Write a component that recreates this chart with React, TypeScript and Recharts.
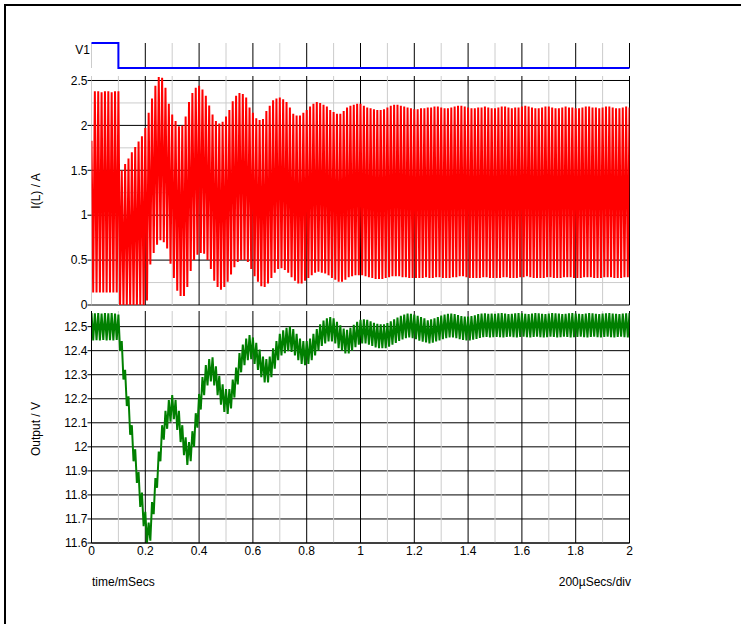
import React from 'react';
import { LineChart, Line, XAxis, YAxis, ReferenceLine } from 'recharts';

const FONT = '"Liberation Sans", Arial, Helvetica, sans-serif';

// ---- time axis (mSecs) ----
const TIME_TICKS = [0, 0.2, 0.4, 0.6, 0.8, 1, 1.2, 1.4, 1.6, 1.8, 2];
const MAJOR_TIMES = [0.2, 0.4, 0.6, 0.8, 1, 1.2, 1.4, 1.6, 1.8, 2];
const MINOR_TIMES = [0.1, 0.3, 0.5, 0.7, 0.9, 1.1, 1.3, 1.5, 1.7, 1.9];

// ---- V1 digital trace ----
const V1_TIMES = [0, 0.1, 0.1, 2];
const V1_LEVELS = [1, 1, 0, 0];

// ---- switching ripple: one peak + one valley per switching period ----
const SWITCH_PERIOD = 0.0125; // ms

// I(L) / A  -- peak of each cycle
const IL_PEAK = [
  1.83, 2.38, 2.38, 2.37, 2.38, 2.38, 2.37, 2.38, 2.38, 1.5,
  1.57, 1.63, 1.7, 1.76, 1.82, 1.88, 1.97, 2.14, 2.3, 2.44,
  2.54, 2.53, 2.42, 2.24, 2.12, 2.05, 1.99, 2.0, 2.1, 2.26,
  2.36, 2.42, 2.44, 2.4, 2.33, 2.22, 2.12, 2.05, 2.02, 2.04,
  2.1, 2.17, 2.27, 2.33, 2.36, 2.35, 2.31, 2.2, 2.14, 2.08,
  2.06, 2.07, 2.16, 2.22, 2.28, 2.3, 2.31, 2.29, 2.26, 2.2,
  2.13, 2.11, 2.11, 2.14, 2.17, 2.21, 2.24, 2.26, 2.25, 2.23,
  2.21, 2.17, 2.15, 2.13, 2.13, 2.16, 2.2, 2.22, 2.23, 2.24,
  2.24, 2.22, 2.2, 2.19, 2.18, 2.17, 2.17, 2.18, 2.2, 2.22,
  2.23, 2.23, 2.22, 2.21, 2.2, 2.19, 2.18, 2.18, 2.19, 2.19,
  2.2, 2.2, 2.21, 2.21, 2.2, 2.19, 2.19, 2.2, 2.21, 2.22,
  2.22, 2.21, 2.2, 2.19, 2.19, 2.2, 2.2, 2.21, 2.2, 2.19,
  2.19, 2.2, 2.21, 2.21, 2.2, 2.19, 2.2, 2.2, 2.21, 2.22,
  2.21, 2.2, 2.19, 2.19, 2.2, 2.21, 2.21, 2.2, 2.19, 2.19,
  2.2, 2.21, 2.2, 2.2, 2.19, 2.19, 2.2, 2.21, 2.21, 2.2,
  2.2, 2.19, 2.2, 2.21, 2.21, 2.2, 2.19, 2.19, 2.2, 2.21,
  2.2,
];
// I(L) / A  -- valley of each cycle
const IL_VALLEY = [
  0.14, 0.14, 0.14, 0.14, 0.14, 0.14, 0.14, 0.14, 0, 0,
  0, 0, 0, 0, 0, 0, 0.05, 0.45, 0.58, 0.67,
  0.72, 0.7, 0.63, 0.46, 0.3, 0.16, 0.1, 0.1, 0.2, 0.38,
  0.5, 0.56, 0.58, 0.57, 0.5, 0.4, 0.27, 0.2, 0.17, 0.2,
  0.26, 0.34, 0.42, 0.48, 0.5, 0.5, 0.48, 0.4, 0.32, 0.26,
  0.21, 0.2, 0.24, 0.3, 0.36, 0.4, 0.41, 0.39, 0.36, 0.31,
  0.27, 0.24, 0.24, 0.27, 0.3, 0.33, 0.36, 0.37, 0.36, 0.35,
  0.33, 0.3, 0.28, 0.26, 0.26, 0.28, 0.31, 0.32, 0.33, 0.33,
  0.33, 0.32, 0.31, 0.3, 0.29, 0.29, 0.29, 0.3, 0.31, 0.32,
  0.32, 0.32, 0.31, 0.31, 0.3, 0.3, 0.3, 0.3, 0.3, 0.31,
  0.3, 0.3, 0.31, 0.31, 0.3, 0.3, 0.3, 0.31, 0.31, 0.32,
  0.32, 0.31, 0.3, 0.3, 0.3, 0.3, 0.31, 0.31, 0.3, 0.3,
  0.3, 0.3, 0.31, 0.31, 0.3, 0.3, 0.3, 0.31, 0.31, 0.32,
  0.31, 0.3, 0.3, 0.3, 0.3, 0.31, 0.31, 0.3, 0.3, 0.3,
  0.31, 0.31, 0.31, 0.3, 0.3, 0.3, 0.31, 0.31, 0.31, 0.3,
  0.3, 0.3, 0.31, 0.31, 0.31, 0.3, 0.3, 0.3, 0.31, 0.31,
  0.3,
];
// Output / V -- peak of each cycle
const OUT_PEAK = [
  12.556, 12.555, 12.556, 12.554, 12.556, 12.555, 12.556, 12.554, 12.55, 12.44,
  12.32, 12.21, 12.09, 11.99, 11.895, 11.81, 11.73, 11.685, 11.77, 11.87,
  11.98, 12.09, 12.15, 12.195, 12.215, 12.195, 12.15, 12.09, 12.04, 12.02,
  12.065, 12.14, 12.22, 12.29, 12.34, 12.365, 12.372, 12.335, 12.295, 12.26,
  12.24, 12.24, 12.28, 12.33, 12.39, 12.425, 12.45, 12.465, 12.455, 12.433,
  12.405, 12.375, 12.365, 12.375, 12.41, 12.44, 12.47, 12.485, 12.495, 12.5,
  12.49, 12.47, 12.45, 12.44, 12.44, 12.45, 12.47, 12.49, 12.51, 12.525,
  12.535, 12.54, 12.535, 12.52, 12.505, 12.492, 12.487, 12.495, 12.508, 12.52,
  12.528, 12.53, 12.528, 12.522, 12.516, 12.512, 12.51, 12.51, 12.515, 12.522,
  12.53, 12.538, 12.545, 12.55, 12.554, 12.553, 12.55, 12.545, 12.54, 12.535,
  12.526, 12.53, 12.535, 12.54, 12.546, 12.55, 12.553, 12.554, 12.552, 12.548,
  12.544, 12.542, 12.542, 12.544, 12.547, 12.552, 12.554, 12.555, 12.553, 12.554,
  12.553, 12.555, 12.556, 12.554, 12.552, 12.553, 12.555, 12.556, 12.555, 12.553,
  12.552, 12.554, 12.556, 12.555, 12.553, 12.552, 12.554, 12.556, 12.555, 12.554,
  12.552, 12.553, 12.555, 12.556, 12.554, 12.553, 12.552, 12.554, 12.556, 12.555,
  12.553, 12.552, 12.554, 12.555, 12.556, 12.554, 12.553, 12.552, 12.554, 12.555,
  12.556,
];
// Output / V -- valley of each cycle
const OUT_VALLEY = [
  12.443, 12.444, 12.443, 12.445, 12.443, 12.444, 12.443, 12.445, 12.4, 12.28,
  12.17, 12.05, 11.94, 11.85, 11.75, 11.67, 11.6, 11.61, 11.72, 11.83,
  11.94, 12.03, 12.075, 12.105, 12.115, 12.07, 12.02, 11.965, 11.925, 11.94,
  12.0, 12.08, 12.155, 12.215, 12.255, 12.272, 12.255, 12.215, 12.175, 12.145,
  12.137, 12.16, 12.205, 12.26, 12.31, 12.34, 12.36, 12.365, 12.345, 12.32,
  12.29, 12.268, 12.268, 12.29, 12.325, 12.36, 12.38, 12.39, 12.398, 12.395,
  12.38, 12.36, 12.345, 12.34, 12.345, 12.36, 12.38, 12.4, 12.42, 12.43,
  12.438, 12.438, 12.43, 12.41, 12.4, 12.388, 12.388, 12.4, 12.415, 12.425,
  12.43, 12.43, 12.425, 12.42, 12.413, 12.41, 12.41, 12.41, 12.417, 12.425,
  12.432, 12.44, 12.447, 12.452, 12.455, 12.452, 12.448, 12.442, 12.437, 12.434,
  12.43, 12.433, 12.438, 12.443, 12.448, 12.452, 12.455, 12.455, 12.452, 12.448,
  12.445, 12.443, 12.443, 12.446, 12.449, 12.453, 12.456, 12.457, 12.455, 12.456,
  12.457, 12.456, 12.455, 12.457, 12.458, 12.456, 12.455, 12.457, 12.458, 12.456,
  12.455, 12.457, 12.458, 12.456, 12.455, 12.456, 12.458, 12.457, 12.455, 12.456,
  12.458, 12.457, 12.455, 12.456, 12.457, 12.458, 12.456, 12.455, 12.457, 12.458,
  12.456, 12.455, 12.457, 12.458, 12.456, 12.455, 12.457, 12.458, 12.456, 12.455,
  12.457,
];

// ---- y axes ----
const IL_TICKS = [0, 0.5, 1, 1.5, 2, 2.5];
const IL_MINOR = [0.25, 0.75, 1.25, 1.75, 2.25];
const OUT_TICKS = [11.6, 11.7, 11.8, 11.9, 12, 12.1, 12.2, 12.3, 12.4, 12.5];

const T_END = 2;

function rippleSeries(peaks: number[], valleys: number[]) {
  const pts: { t: number; v: number }[] = [];
  peaks.forEach((p, i) => {
    const t = i * SWITCH_PERIOD;
    pts.push({ t, v: p });
    const tv = t + SWITCH_PERIOD / 2;
    if (tv <= T_END) pts.push({ t: tv, v: valleys[i] });
  });
  return pts;
}

const v1Data = V1_TIMES.map((t, i) => ({ t, v: V1_LEVELS[i] }));
const ilData = rippleSeries(IL_PEAK, IL_VALLEY);
const outData = rippleSeries(OUT_PEAK, OUT_VALLEY);

const MINOR_C = '#cccccc';
const MAJOR_C = '#000000';
const RIGHT = 111.5;
const LEFT_W = 91.5;
const tickStyle = { fontSize: 12, fill: '#000', fontFamily: FONT };

const fmt = (v: number) => String(v);

function vGrid(prefix: string, zeroColor: string | null) {
  const out: React.ReactNode[] = [];
  if (zeroColor) out.push(<ReferenceLine key={prefix + 'z'} x={0} stroke={zeroColor} strokeWidth={1} />);
  MINOR_TIMES.forEach((t) =>
    out.push(<ReferenceLine key={prefix + 'mi' + t} x={t} stroke={MINOR_C} strokeWidth={1} />)
  );
  MAJOR_TIMES.forEach((t) =>
    out.push(<ReferenceLine key={prefix + 'ma' + t} x={t} stroke={MAJOR_C} strokeWidth={1} />)
  );
  return out;
}

export default function App() {
  return (
    <div
      style={{
        position: 'absolute',
        left: 0,
        top: 0,
        width: 741,
        height: 624,
        overflow: 'hidden',
        background: '#fff',
        fontFamily: FONT,
      }}
    >
      {/* V1 panel */}
      <div style={{ position: 'absolute', left: 0, top: 0 }}>
        <LineChart width={741} height={70} data={v1Data} margin={{ top: 43, right: RIGHT, bottom: 2, left: LEFT_W }}>
          <XAxis type="number" dataKey="t" domain={[0, 2]} hide />
          <YAxis type="number" domain={[0, 1]} hide />
          {vGrid('v1', MINOR_C)}
          <Line
            type="linear"
            dataKey="v"
            stroke="#0000ff"
            strokeWidth={2}
            dot={false}
            activeDot={false}
            isAnimationActive={false}
          />
        </LineChart>
      </div>

      {/* I(L) panel */}
      <div style={{ position: 'absolute', left: 0, top: 70 }}>
        <LineChart width={741} height={250} data={ilData} margin={{ top: 6, right: RIGHT, bottom: 15, left: 0 }}>
          <XAxis type="number" dataKey="t" domain={[0, 2]} hide allowDataOverflow />
          <YAxis
            type="number"
            domain={[0, 2.55]}
            ticks={IL_TICKS}
            tickFormatter={fmt}
            interval={0}
            width={LEFT_W}
            axisLine={false}
            tickLine={{ stroke: '#000' }}
            tickSize={4}
            tickMargin={0}
            tick={tickStyle}
            allowDataOverflow
          />
          {IL_MINOR.map((v) => (
            <ReferenceLine key={'ilm' + v} y={v} stroke={MINOR_C} strokeWidth={1} />
          ))}
          {IL_TICKS.map((v) => (
            <ReferenceLine key={'ilM' + v} y={v} stroke={MAJOR_C} strokeWidth={1} />
          ))}
          {vGrid('il', MINOR_C)}
          <Line
            type="linear"
            dataKey="v"
            stroke="#ff0000"
            strokeWidth={2}
            dot={false}
            activeDot={false}
            isAnimationActive={false}
          />
        </LineChart>
      </div>

      {/* Output panel */}
      <div style={{ position: 'absolute', left: 0, top: 305 }}>
        <LineChart width={741} height={260} data={outData} margin={{ top: 6, right: RIGHT, bottom: 2, left: 0 }}>
          <XAxis
            type="number"
            dataKey="t"
            domain={[0, 2]}
            ticks={TIME_TICKS}
            tickFormatter={fmt}
            interval={0}
            height={20}
            axisLine={{ stroke: '#000' }}
            tickLine={false}
            tickSize={0}
            tickMargin={3}
            tick={tickStyle}
            allowDataOverflow
          />
          <YAxis
            type="number"
            domain={[11.6, 12.565]}
            ticks={OUT_TICKS}
            tickFormatter={fmt}
            interval={0}
            width={LEFT_W}
            axisLine={{ stroke: '#000' }}
            tickLine={{ stroke: '#000' }}
            tickSize={4}
            tickMargin={0}
            tick={tickStyle}
            allowDataOverflow
          />
          {OUT_TICKS.map((v) => (
            <ReferenceLine key={'om' + v} y={v} stroke={MAJOR_C} strokeWidth={1} />
          ))}
          {vGrid('out', null)}
          <Line
            type="linear"
            dataKey="v"
            stroke="#008000"
            strokeWidth={2}
            dot={false}
            activeDot={false}
            isAnimationActive={false}
          />
        </LineChart>
      </div>

      {/* frame and captions */}
      <svg
        width={741}
        height={624}
        style={{ position: 'absolute', left: 0, top: 0, pointerEvents: 'none' }}
      >
        <rect x={5} y={5} width={900} height={800} fill="none" stroke="#000" strokeWidth={2} />
        <text x={90} y={54} textAnchor="end" fontSize={12} fontFamily={FONT} fill="#000">
          V1
        </text>
        <text
          x={39.5}
          y={191}
          textAnchor="middle"
          fontSize={12}
          fontFamily={FONT}
          fill="#000"
          transform="rotate(-90 39.5 191)"
        >
          I(L) / A
        </text>
        <text
          x={40}
          y={429}
          textAnchor="middle"
          fontSize={12}
          fontFamily={FONT}
          fill="#000"
          transform="rotate(-90 40 429)"
        >
          Output / V
        </text>
        <text x={92} y={586} fontSize={12} fontFamily={FONT} fill="#000">
          time/mSecs
        </text>
        <text x={631} y={586} textAnchor="end" fontSize={12} fontFamily={FONT} fill="#000">
          200µSecs/div
        </text>
      </svg>
    </div>
  );
}
